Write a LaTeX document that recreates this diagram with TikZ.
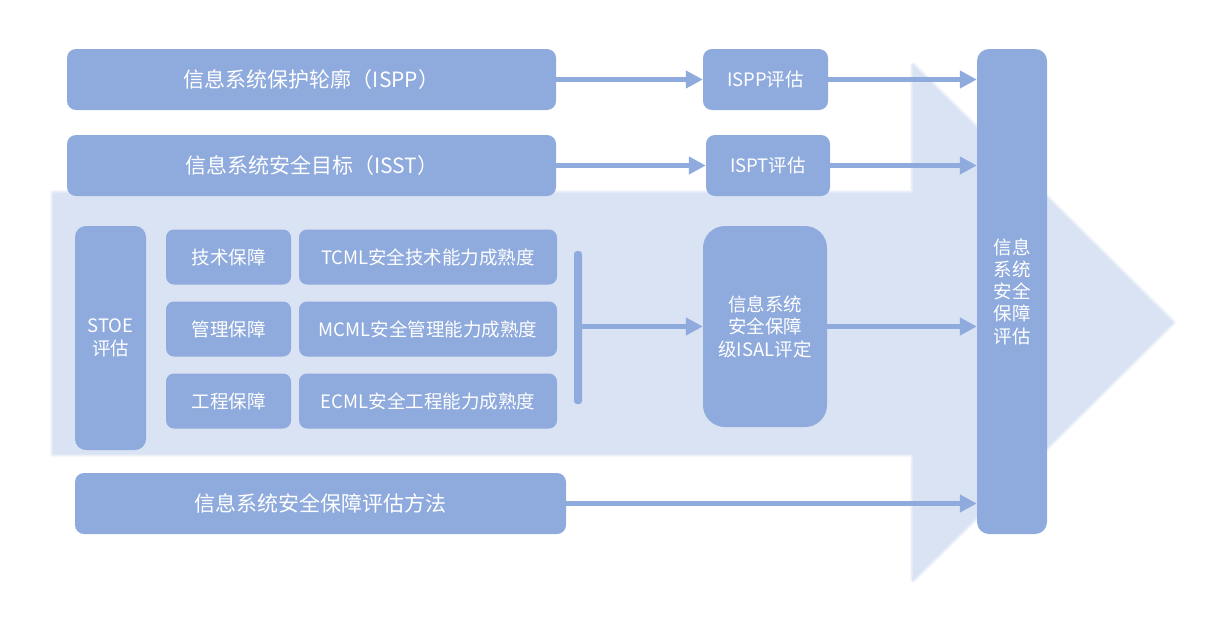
\documentclass[tikz,border=0pt]{standalone}
\usepackage{fontspec}
\setmainfont{Noto Sans CJK SC}
\usetikzlibrary{arrows.meta}
\definecolor{boxblue}{HTML}{8FAADC}
\definecolor{lightblue}{HTML}{DAE3F3}
\begin{document}
\begin{tikzpicture}[x=1pt,y=-1pt,
  box/.style={fill=boxblue,draw=none,text=white,inner sep=0pt,align=center,rounded corners=9pt,font=\fontsize{21}{25}\selectfont},
  small/.style={box,font=\fontsize{18.5}{22.5}\selectfont},
  conn/.style={draw=boxblue,line width=5pt,-{Triangle[length=17pt,width=17pt]}}]
\useasboundingbox (0,0) rectangle (1206,640);
% big light arrow in the background (soft edge)
\foreach \w/\o in {6/0.25,4/0.35,2/0.5}
  \draw[lightblue,line width=\w pt,opacity=\o,line join=round] (53,193) -- (913,193) -- (913,65) -- (1173,322.5) -- (913,580) -- (913,454) -- (53,454) -- cycle;
\fill[lightblue] (53,193) -- (913,193) -- (913,65) -- (1173,322.5) -- (913,580) -- (913,454) -- (53,454) -- cycle;
% nodes
\node[box,minimum width=489pt,minimum height=61pt] (ispp) at (311.5,79.5) {信息系统保护轮廓（ISPP）};
\node[small,minimum width=125pt,minimum height=61pt] (isppe) at (765.5,79.5) {ISPP评估};
\node[box,minimum width=489pt,minimum height=61pt] (isst) at (311.5,165.5) {信息系统安全目标（ISST）};
\node[small,minimum width=124pt,minimum height=61pt] (ispte) at (768,165.5) {ISPT评估};
\node[small,minimum width=71pt,minimum height=224pt,rounded corners=11pt] (stoe) at (110.5,338) {STOE\\评估};
\node[small,minimum width=125pt,minimum height=55pt,rounded corners=8pt] (tech) at (228.5,257) {技术保障};
\node[small,minimum width=258pt,minimum height=55pt,rounded corners=8pt] (tcml) at (428,257) {TCML安全技术能力成熟度};
\node[small,minimum width=125pt,minimum height=55pt,rounded corners=8pt] (mgmt) at (228.5,329) {管理保障};
\node[small,minimum width=258pt,minimum height=55pt,rounded corners=8pt] (mcml) at (428,329) {MCML安全管理能力成熟度};
\node[small,minimum width=125pt,minimum height=55pt,rounded corners=8pt] (eng) at (228.5,401) {工程保障};
\node[small,minimum width=258pt,minimum height=55pt,rounded corners=8pt] (ecml) at (428,401) {ECML安全工程能力成熟度};
\node[box,minimum width=491pt,minimum height=61pt] (method) at (320.5,503.5) {信息系统安全保障评估方法};
\node[small,minimum width=124pt,minimum height=201pt,rounded corners=22pt] (isal) at (765,326.5) {信息系统\\安全保障\\级ISAL评定};
\node[small,minimum width=70pt,minimum height=485pt,rounded corners=12pt,font=\fontsize{18.5}{22.3}\selectfont] (right) at (1012,291.5) {信息\\系统\\安全\\保障\\评估};
\node[fill=boxblue,inner sep=0pt,minimum width=8pt,minimum height=153pt,rounded corners=3pt] (bar) at (578,327.5) {};
% connectors
\draw[conn] (ispp.east) -- (isppe.west);
\draw[conn] (isppe.east) -- (right.west |- isppe.east);
\draw[conn] (isst.east) -- (ispte.west);
\draw[conn] (ispte.east) -- (right.west |- ispte.east);
\draw[conn] (bar.east |- isal.west) -- (isal.west);
\draw[conn] (isal.east) -- (right.west |- isal.east);
\draw[conn] (method.east) -- (right.west |- method.east);
\end{tikzpicture}
\end{document}
